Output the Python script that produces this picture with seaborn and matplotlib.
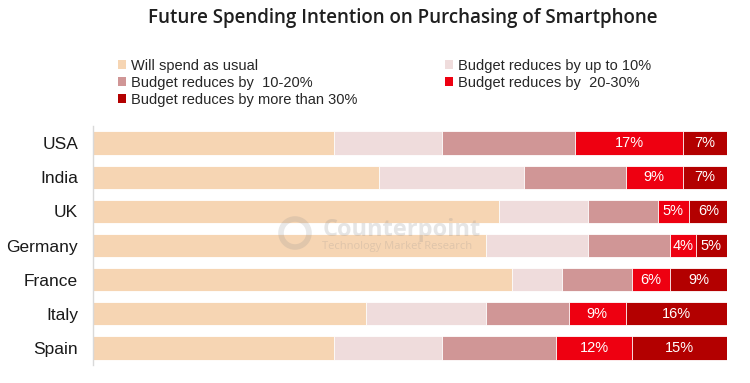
import matplotlib
matplotlib.use('Agg')
import matplotlib.pyplot as plt
from matplotlib.patches import Patch, Circle
import numpy as np
import pandas as pd
import seaborn as sns

countries = ['USA', 'India', 'UK', 'Germany', 'France', 'Italy', 'Spain']
spend_as_usual = [38, 45, 64, 62, 66, 43, 38]
reduce_up_to_10 = [17, 23, 14, 16, 8, 19, 17]
reduce_10_20 = [21, 16, 11, 13, 11, 13, 18]
reduce_20_30 = [17, 9, 5, 4, 6, 9, 12]
reduce_over_30 = [7, 7, 6, 5, 9, 16, 15]

series_names = ['Will spend as usual', 'Budget reduces by up to 10%',
                'Budget reduces by  10-20%', 'Budget reduces by  20-30%',
                'Budget reduces by more than 30%']
colors = ['#F6D5B3', '#EFDCDC', '#D09696', '#EE0011', '#B30000']

sns.set_theme(style='white')
plt.rcParams['font.family'] = ['Liberation Sans', 'DejaVu Sans']

df = pd.DataFrame({'country': countries})
values = [spend_as_usual, reduce_up_to_10, reduce_10_20, reduce_20_30, reduce_over_30]
for name, vals in zip(series_names, values):
    df[name] = vals
cum = df[series_names].cumsum(axis=1)

fig = plt.figure(figsize=(7.5, 3.83), dpi=100)
ax = fig.add_axes([0.1244, 0.047, 0.8453, 0.624])

# stacked look: draw cumulative totals, longest first
for name, color in reversed(list(zip(series_names, colors))):
    sns.barplot(x=cum[name], y=df['country'], order=countries, orient='h',
                color=color, saturation=1, width=0.68, errorbar=None,
                linewidth=0.6, edgecolor='white', ax=ax)

# value labels on the two last segments
for name in series_names[3:]:
    for i, c in enumerate(countries):
        v = df.loc[i, name]
        ax.text(cum.loc[i, name] - v / 2, i, f'{v}%', ha='center', va='center',
                color='white', fontsize=10.5)

ax.set_xlim(0, 100)
ax.set_ylim(6.5, -0.5)
ax.set_xlabel('')
ax.set_ylabel('')
ax.set_xticks([])
ax.tick_params(axis='y', length=0, pad=11, labelsize=12.5, labelcolor='#1a1a1a')
for s in ['top', 'right', 'bottom']:
    ax.spines[s].set_visible(False)
ax.spines['left'].set_color('#D9D9D9')
ax.spines['left'].set_linewidth(1)

fig.text(0.537, 1 - 18 / 383, 'Future Spending Intention on Purchasing of Smartphone',
         ha='center', va='center', fontsize=13.5, fontweight='semibold',
         family='Open Sans', color='#1f1f1f')

# legend, row-wise order
order = [0, 2, 4, 1, 3]
handles = [Patch(facecolor=colors[k], edgecolor='none') for k in order]
labels = [series_names[k] for k in order]
fig.legend(handles, labels, ncol=2, loc='upper left',
           bbox_to_anchor=(118 / 750, 1 - 59 / 383), frameon=False,
           fontsize=10.5, handlelength=0.55, handleheight=0.55,
           handletextpad=0.35, columnspacing=6.0, labelspacing=0.2,
           borderpad=0, borderaxespad=0)

# faint watermark
fig.text(0.43, 1 - 230 / 383, 'Counterpoint', ha='left', va='center',
         fontsize=17, fontweight='bold', color='#8c8c8c', alpha=0.22,
         family='Open Sans', zorder=10)
fig.text(0.43, 1 - 246 / 383, 'Technology Market Research', ha='left', va='center',
         fontsize=8, color='#8c8c8c', alpha=0.22, family='Open Sans', zorder=10)
fig.add_artist(Circle((2.95, (383 - 233) / 100), 0.14, transform=fig.dpi_scale_trans,
                      fill=False, linewidth=4, edgecolor='#8c8c8c', alpha=0.2, zorder=10))

fig.savefig('out.png', dpi=100)
